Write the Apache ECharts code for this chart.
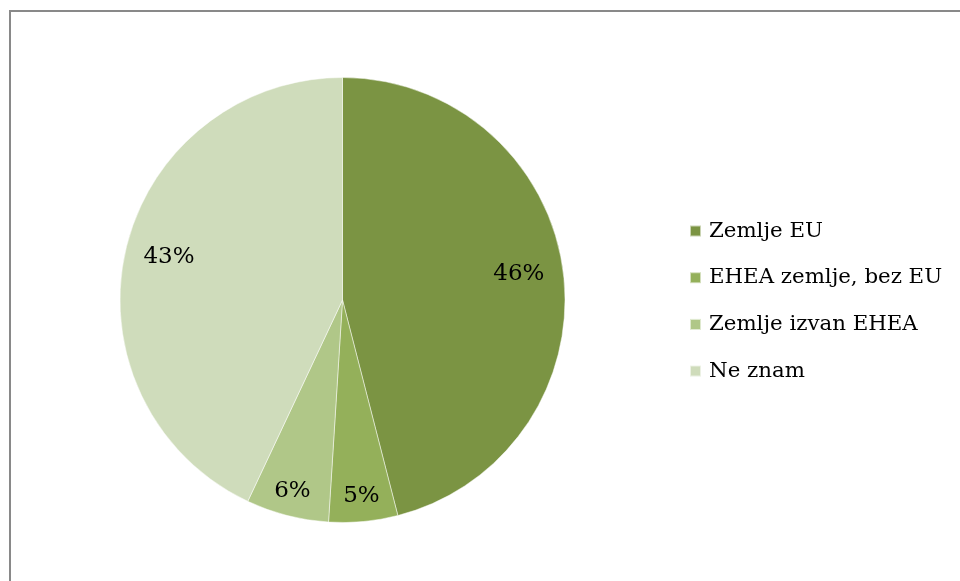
<!DOCTYPE html>
<html>
<head>
<meta charset="utf-8">
<script src="https://cdn.jsdelivr.net/npm/echarts@6/dist/echarts.min.js"></script>
<style>
    html, body { margin: 0; padding: 0; background: #fff; }
    #chart { width: 960px; height: 581px; }
</style>
</head>
<body>
<div id="chart"></div>
<script>
// Chart data
var categories = ['Zemlje EU', 'EHEA zemlje, bez EU', 'Zemlje izvan EHEA', 'Ne znam'];
var shares = [46, 5, 6, 43];
var sliceColors = ['#7b9443', '#94b05a', '#b0c788', '#cfdcbb'];

var chart = echarts.init(document.getElementById('chart'));

// build pie items; showLabel decides which slices get a label in this ring
function pieData(showLabel) {
    var res = [];
    for (var i = 0; i < categories.length; i++) {
        var item = { name: categories[i], value: shares[i] };
        if (showLabel) {
            item.label = { show: showLabel(shares[i]) };
        }
        res.push(item);
    }
    return res;
}

var labelStyle = {
    show: true,
    position: 'inside',
    formatter: '{c}%',
    fontFamily: 'DejaVu Serif',
    fontSize: 23,
    color: '#000',
    offset: [0, -4]
};

var option = {
    animation: false,
    color: sliceColors,
    graphic: [{
        type: 'rect',
        shape: { x: 10, y: 11, width: 980, height: 620 },
        style: { fill: 'none', stroke: '#898989', lineWidth: 2 },
        silent: true
    }],
    legend: {
        orient: 'vertical',
        left: 689,
        top: 219,
        padding: 0,
        itemWidth: 11,
        itemHeight: 11,
        itemGap: 22.7,
        icon: 'rect',
        data: categories,
        textStyle: {
            fontFamily: 'DejaVu Serif',
            fontSize: 21.3,
            lineHeight: 24,
            color: '#000',
            padding: [0, 0, 0, 3]
        }
    },
    series: [
        {
            // the slices
            name: 'shares',
            type: 'pie',
            center: [342.5, 300],
            radius: [0, 222.5],
            startAngle: 90,
            clockwise: true,
            silent: true,
            itemStyle: { borderColor: 'rgba(255,255,255,0.6)', borderWidth: 0.8 },
            label: { show: false },
            labelLine: { show: false },
            data: pieData()
        },
        {
            // transparent ring for the labels of the big slices
            name: 'labelsBig',
            type: 'pie',
            center: [342.5, 300],
            radius: [127, 222.5],
            startAngle: 90,
            clockwise: true,
            silent: true,
            itemStyle: { color: 'rgba(0,0,0,0)' },
            label: labelStyle,
            labelLine: { show: false },
            data: pieData(function (v) { return v >= 10; })
        },
        {
            // transparent ring for the labels of the small slices
            name: 'labelsSmall',
            type: 'pie',
            center: [342.5, 300],
            radius: [174, 222.5],
            startAngle: 90,
            clockwise: true,
            silent: true,
            itemStyle: { color: 'rgba(0,0,0,0)' },
            label: labelStyle,
            labelLine: { show: false },
            data: pieData(function (v) { return v < 10; })
        }
    ]
};

chart.setOption(option);
</script>
</body>
</html>
